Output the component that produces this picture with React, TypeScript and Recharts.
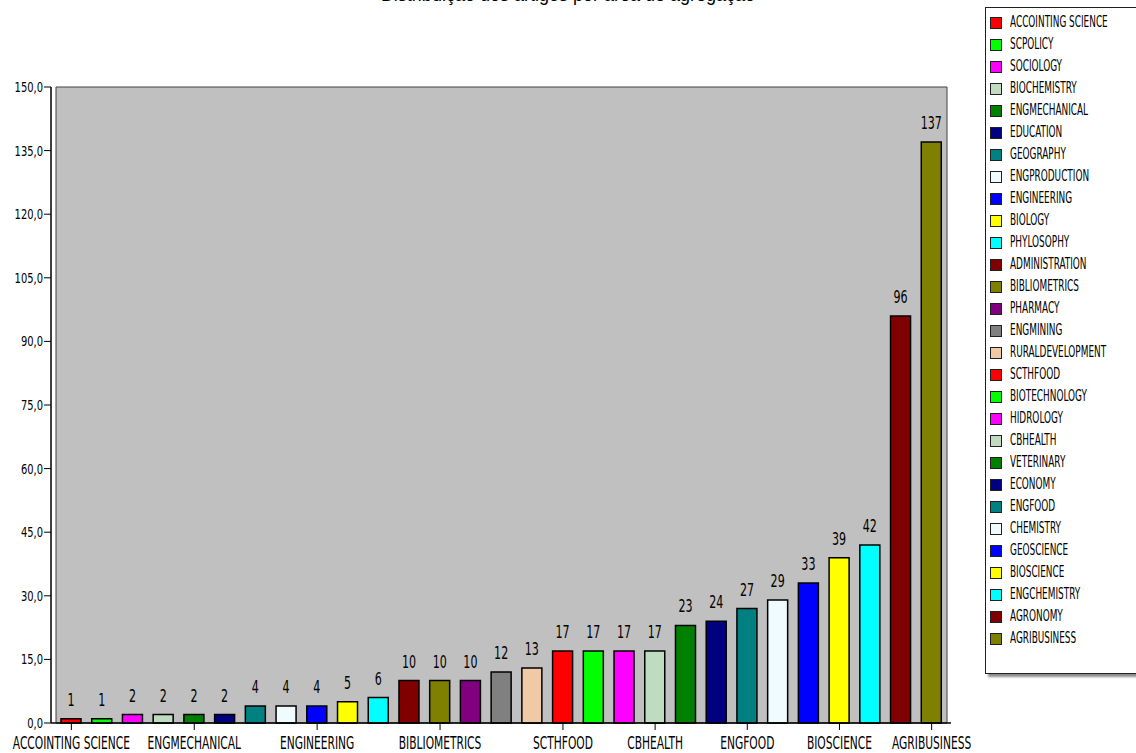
import React from 'react';
import { BarChart, Bar, XAxis, YAxis, Cell, LabelList, ReferenceArea } from 'recharts';

const categories = [
  'ACCOINTING SCIENCE', 'SCPOLICY', 'SOCIOLOGY', 'BIOCHEMISTRY', 'ENGMECHANICAL', 'EDUCATION',
  'GEOGRAPHY', 'ENGPRODUCTION', 'ENGINEERING', 'BIOLOGY', 'PHYLOSOPHY', 'ADMINISTRATION',
  'BIBLIOMETRICS', 'PHARMACY', 'ENGMINING', 'RURALDEVELOPMENT', 'SCTHFOOD', 'BIOTECHNOLOGY',
  'HIDROLOGY', 'CBHEALTH', 'VETERINARY', 'ECONOMY', 'ENGFOOD', 'CHEMISTRY', 'GEOSCIENCE',
  'BIOSCIENCE', 'ENGCHEMISTRY', 'AGRONOMY', 'AGRIBUSINESS',
];
const values = [1, 1, 2, 2, 2, 2, 4, 4, 4, 5, 6, 10, 10, 10, 12, 13, 17, 17, 17, 17, 23, 24, 27, 29, 33, 39, 42, 96, 137];
const colors = [
  '#FF0000', '#00FF00', '#FF00FF', '#C0DCC0', '#008000', '#000080',
  '#008080', '#F0FBFF', '#0000FF', '#FFFF00', '#00FFFF', '#800000',
  '#808000', '#800080', '#808080', '#F0CAA6', '#FF0000', '#00FF00',
  '#FF00FF', '#C0DCC0', '#008000', '#000080', '#008080', '#F0FBFF', '#0000FF',
  '#FFFF00', '#00FFFF', '#800000', '#808000',
];
const yTicks = [0, 15, 30, 45, 60, 75, 90, 105, 120, 135, 150];
const xTickLabels = ['ACCOINTING SCIENCE', 'ENGMECHANICAL', 'ENGINEERING', 'BIBLIOMETRICS', 'SCTHFOOD', 'CBHEALTH', 'ENGFOOD', 'BIOSCIENCE', 'AGRIBUSINESS'];
const title = 'Distribuição dos artigos por área de agregação';

const data = categories.map((name, i) => ({ name, value: values[i] }));

const NARROW = '"DejaVu Sans Condensed", "Liberation Sans Narrow", "Liberation Sans", sans-serif';

const XTick = (props: any) => {
  const { x, y, payload } = props;
  return (
    <g transform={`translate(${x},${y}) scale(0.95,1.38)`}>
      <text x={0} y={12} textAnchor="middle" fontFamily={NARROW} fontSize={12.5} fill="#000">
        {payload.value}
      </text>
    </g>
  );
};

const YTick = (props: any) => {
  const { x, y, payload } = props;
  return (
    <g transform={`translate(${x},${y}) scale(0.85,1.1)`}>
      <text x={0} y={0} dy="0.355em" textAnchor="end" fontFamily={NARROW} fontSize={13} fill="#000">
        {Number(payload.value).toFixed(1).replace('.', ',')}
      </text>
    </g>
  );
};

const BarLabel = (props: any) => {
  const { x, y, width, value } = props;
  return (
    <g transform={`translate(${Number(x) + Number(width) / 2},${Number(y) - 13}) scale(0.88,1.3)`}>
      <text x={0} y={0} textAnchor="middle" fontFamily={NARROW} fontSize={14} fill="#000">
        {value}
      </text>
    </g>
  );
};

const LegendBox = () => (
  <div
    style={{
      position: 'absolute', left: 985, top: 7, width: 170, height: 667, boxSizing: 'border-box',
      background: '#fff', border: '1px solid #202020', boxShadow: '3px 3px 2px rgba(0,0,0,0.45)',
      paddingTop: 4,
    }}
  >
    {categories.map((c, i) => (
      <div key={c} style={{ height: 22.03, display: 'flex', alignItems: 'center', paddingLeft: 4 }}>
        <div style={{ width: 10, height: 10, background: colors[i], border: '1px solid #202020', flex: 'none' }} />
        <span
          style={{
            marginLeft: 8, fontFamily: NARROW, fontSize: 11, color: '#000', whiteSpace: 'nowrap',
            display: 'inline-block', transform: 'scale(0.9,1.45)', transformOrigin: 'left center', lineHeight: '12px',
          }}
        >
          {c}
        </span>
      </div>
    ))}
  </div>
);

export default function App() {
  return (
    <div style={{ position: 'absolute', left: 0, top: 0, width: 1136, height: 753, overflow: 'hidden', background: '#fff' }}>
      <div
        style={{
          position: 'absolute', left: 0, top: -14, width: 1136, textAlign: 'center',
          fontFamily: '"Liberation Sans", Arial, sans-serif', fontSize: 18, lineHeight: '18px', color: '#000',
        }}
      >
        {title}
      </div>
      <div style={{ position: 'absolute', left: 0, top: 0 }}>
        <BarChart width={1136} height={753} data={data} margin={{ top: 87, right: 185, bottom: 0, left: 0 }}>
          <ReferenceArea y1={0} y2={150} fill="#C0C0C0" fillOpacity={1} stroke="#404040" strokeWidth={1} ifOverflow="extendDomain" />
          <XAxis
            dataKey="name"
            ticks={xTickLabels}
            interval={0}
            height={30}
            padding={{ left: 5, right: 4 }}
            tickSize={7}
            tickMargin={2}
            tick={<XTick />}
            axisLine={{ stroke: '#000', strokeWidth: 1.5 }}
            tickLine={{ stroke: '#000' }}
          />
          <YAxis
            domain={[0, 150]}
            ticks={yTicks}
            width={51}
            tickSize={7}
            tickMargin={1}
            interval={0}
            tick={<YTick />}
            axisLine={{ stroke: '#000', strokeWidth: 1.5 }}
            tickLine={{ stroke: '#000' }}
          />
          <Bar dataKey="value" barSize={20} stroke="#000" strokeWidth={1.5} isAnimationActive={false}>
            {data.map((d, i) => (
              <Cell key={d.name} fill={colors[i]} />
            ))}
            <LabelList dataKey="value" content={<BarLabel />} />
          </Bar>
        </BarChart>
      </div>
      <LegendBox />
    </div>
  );
}
